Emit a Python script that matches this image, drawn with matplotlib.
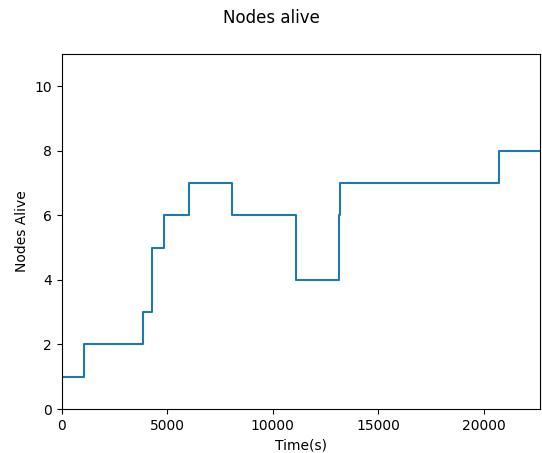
import matplotlib
matplotlib.use("Agg")
import matplotlib.pyplot as plt

# event times (s) and number of nodes alive after each event
times = [0, 1060, 3870, 4270, 4290, 4820, 6050, 8070, 11080, 11110,
         13140, 13150, 13160, 20710, 22650]
alive = [1, 2, 3, 4, 5, 6, 7, 6, 5, 4, 5, 6, 7, 8, 8]

fig = plt.figure(figsize=(5.42, 4.53), dpi=100)
ax = fig.add_axes([0.114, 0.097, 0.882, 0.784])

ax.step(times, alive, where='post')
ax.set_xlim(0, times[-1])
ax.set_ylim(0, 11)
ax.set_xlabel('Time(s)')
ax.set_ylabel('Nodes Alive')
fig.suptitle('Nodes alive')

fig.savefig('out.png', dpi=100)
